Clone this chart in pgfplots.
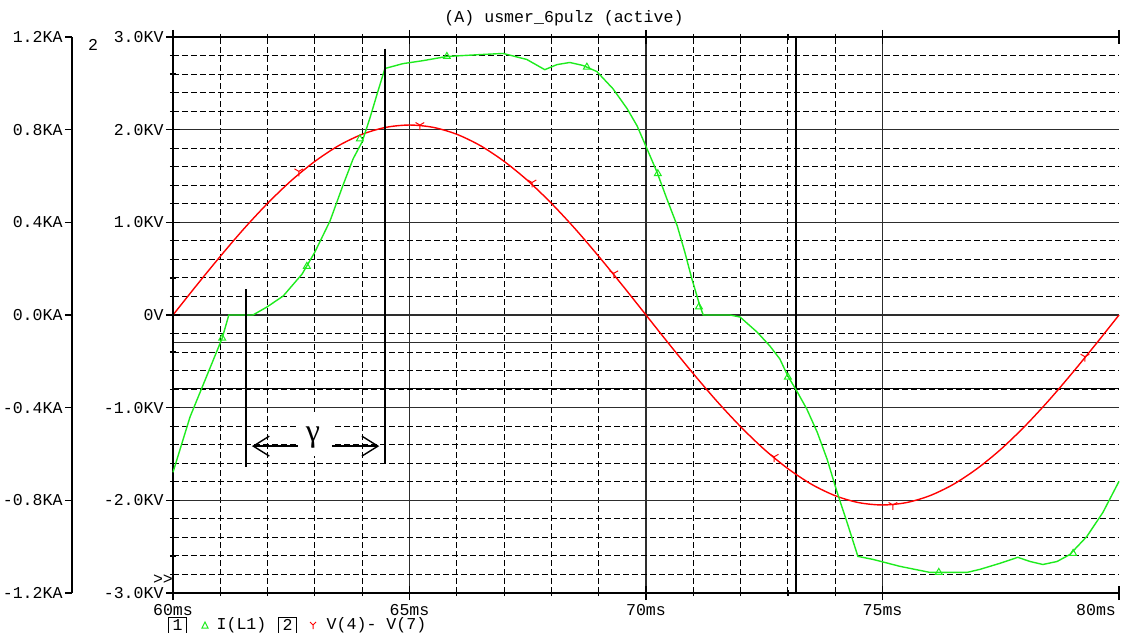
\documentclass[border=0pt]{standalone}
\usepackage{fontspec}
\setmainfont{Liberation Mono}
\newfontfamily\greekfont{Liberation Serif}
\usepackage{pgfplots}
\pgfplotsset{compat=1.18}
\usetikzlibrary{arrows.meta,plotmarks}

\definecolor{trGreen}{RGB}{30,235,30}
\definecolor{trRed}{RGB}{255,0,0}
\definecolor{gridMaj}{RGB}{45,45,45}

% 1 px of the screenshot = 0.5pt here
\pgfplotsset{
  psp/.style={scale only axis, width=473pt, height=278pt,
    at={(0,0)}, anchor=south west, xmin=60, xmax=80},
}

\begin{document}
\begin{tikzpicture}[font=\fontsize{8.3}{10}\selectfont]
\useasboundingbox (-86.5pt,-19.5pt) rectangle (475.5pt,296.5pt);

% current scale (axis 1), only its ruler
\begin{axis}[psp, at={(-50.5pt,0)}, ymin=-1.2, ymax=1.2,
  axis x line=none, axis y line=left,
  axis line style={-, line width=0.6pt},
  xtick=\empty,
  ytick={-1.2,-0.8,-0.4,0,0.4,0.8,1.2},
  yticklabels={-1.2KA,-0.8KA,-0.4KA,0.0KA,0.4KA,0.8KA,1.2KA},
  tick align=outside, major tick length=3.5pt,
  tick style={black, line width=0.6pt},
  yticklabel style={inner sep=1pt},
]
\end{axis}

% voltage axis (axis 2) with the grid
\begin{axis}[psp, ymin=-3, ymax=3, clip=false,
  axis line style={draw=none},
  xtick={60,65,70,75}, xticklabels={60ms,65ms,70ms,75ms},
  extra x ticks={80}, extra x tick labels={80ms},
  extra x tick style={grid=none, xticklabel style={anchor=north east, xshift=2pt}},
  xticklabel style={yshift=1.5pt},
  minor x tick num=4,
  ytick={-3,-2,-1,0,1,2,3},
  yticklabels={-3.0KV,-2.0KV,-1.0KV,0V,1.0KV,2.0KV,3.0KV},
  minor y tick num=4,
  ytick pos=left,
  grid=both,
  major grid style={draw=gridMaj, line width=0.6pt},
  minor grid style={draw=black, line width=0.55pt, dash pattern=on 2.8pt off 1.7pt},
  tick align=center, major tick length=7pt, minor tick length=3pt,
  tick style={black, line width=0.6pt},
  yticklabel style={inner sep=1pt},
]
% cursors
\draw[gridMaj, line width=0.55pt] (axis cs:60,-0.30) -- (axis cs:80,-0.30);
\draw[black, line width=0.7pt] (axis cs:60,-0.79) -- (axis cs:80,-0.79);
\draw[black, line width=0.7pt] (axis cs:73.17,-3) -- (axis cs:73.17,3);

% V(4)-V(7) in kV
\addplot[trRed, line width=0.7pt, smooth] coordinates {
  (60,0) (60.5,0.321) (61,0.633) (61.5,0.931) (62,1.205) (62.5,1.450)
  (63,1.658) (63.5,1.827) (64,1.950) (64.5,2.025) (65,2.050) (65.5,2.025)
  (66,1.950) (66.5,1.827) (67,1.658) (67.5,1.450) (68,1.205) (68.5,0.931)
  (69,0.633) (69.5,0.321) (70,0) (70.5,-0.321) (71,-0.633) (71.5,-0.931)
  (72,-1.205) (72.5,-1.450) (73,-1.658) (73.5,-1.827) (74,-1.950) (74.5,-2.025)
  (75,-2.050) (75.5,-2.025) (76,-1.950) (76.5,-1.827) (77,-1.658) (77.5,-1.450)
  (78,-1.205) (78.5,-0.931) (79,-0.633) (79.5,-0.321) (80,0)
};
\addplot[trRed, only marks, mark=Mercedes star flipped, mark size=2.5pt,
  mark options={line width=0.5pt}] coordinates {
  (62.66,1.55) (65.22,2.05) (67.59,1.43) (69.32,0.45) (72.71,-1.53)
  (75.22,-2.05) (79.28,-0.45)
};

% frame
\draw[black, line width=0.7pt] (rel axis cs:0,0) -- (rel axis cs:0,1);
\draw[black, line width=0.7pt] (rel axis cs:0,0) -- (rel axis cs:1,0);
\draw[black, line width=0.7pt] (rel axis cs:0,1) -- (rel axis cs:1,1);
\end{axis}

% I(L1) in kA, on the scale of axis 1
\begin{axis}[psp, ymin=-1.2, ymax=1.2, hide axis, clip=false]
\addplot[trGreen, line width=0.7pt] coordinates {
  (60.00,-0.679) (60.36,-0.44) (61.04,-0.10) (61.18,0) (61.69,0)
  (61.99,0.035) (62.33,0.082) (62.73,0.177) (63.00,0.272) (63.32,0.406)
  (63.59,0.558) (63.81,0.675) (64.00,0.748) (64.16,0.848) (64.33,0.964)
  (64.48,1.064) (64.86,1.085) (65.29,1.098) (65.79,1.116) (66.49,1.124)
  (66.98,1.129) (67.48,1.103) (67.86,1.059) (68.12,1.081) (68.39,1.090)
  (68.67,1.077) (68.96,1.051) (69.30,0.977) (69.60,0.891) (69.81,0.817)
  (70.02,0.718) (70.23,0.618) (70.44,0.502) (70.66,0.385) (70.82,0.272)
  (70.97,0.156) (71.14,0.039) (71.21,0) (71.78,0) (71.99,-0.009)
  (72.35,-0.074) (72.62,-0.134) (72.83,-0.190) (73.00,-0.264) (73.19,-0.329)
  (73.40,-0.406) (73.62,-0.506) (73.83,-0.623) (74.04,-0.765) (74.25,-0.895)
  (74.48,-1.042) (74.80,-1.055) (75.37,-1.085) (76.00,-1.111) (76.79,-1.111)
  (77.06,-1.098) (77.48,-1.072) (77.86,-1.046) (78.12,-1.064) (78.39,-1.077)
  (78.69,-1.064) (78.96,-1.034) (79.32,-0.956) (79.66,-0.852) (80.00,-0.718)
};
\addplot[trGreen, only marks, mark=triangle, mark size=2pt,
  mark options={line width=0.5pt}] coordinates {
  (61.04,-0.10) (62.83,0.21) (63.95,0.76) (65.79,1.116) (68.75,1.07)
  (70.25,0.61) (71.12,0.035) (73.00,-0.268) (76.19,-1.111) (79.03,-1.029)
};

% commutation angle
\draw[black, line width=0.8pt] (axis cs:61.54,0.112) -- (axis cs:61.54,-0.657);
\draw[black, line width=0.8pt] (axis cs:64.48,1.150) -- (axis cs:64.48,-0.644);
\node[fill=white, minimum width=17pt, minimum height=22pt, inner sep=0pt]
  at (axis cs:63.0,-0.515) {};
\draw[black, line width=0.7pt, -{Straight Barb[length=8pt,width=10pt]}]
  (axis cs:62.64,-0.566) -- (axis cs:61.67,-0.566);
\draw[black, line width=0.7pt, -{Straight Barb[length=8pt,width=10pt]}]
  (axis cs:63.36,-0.566) -- (axis cs:64.36,-0.566);
\node[font=\greekfont\fontsize{16}{16}\selectfont, inner sep=0pt]
  at (axis cs:62.96,-0.53) {γ};
\end{axis}

% texts round the plot
\node at (195.5pt,287.5pt) {(A) usmer\_6pulz (active)};
\node at (-40pt,274pt) {2};
\node at (-5pt,6.5pt) {{>}{>}};
\node[draw, line width=0.5pt, inner sep=0pt, minimum width=9pt, minimum height=8pt]
  at (2.25pt,-16pt) {1};
\draw[trGreen, line width=0.5pt] (14.5pt,-17.5pt) -- (17.5pt,-17.5pt) -- (16pt,-14.5pt) -- cycle;
\node at (34.25pt,-16pt) {I(L1)};
\node[draw, line width=0.5pt, inner sep=0pt, minimum width=9pt, minimum height=8pt]
  at (57.25pt,-16pt) {2};
\draw[trRed, line width=0.5pt] (70pt,-16pt) -- (70pt,-18pt)
  (70pt,-16pt) -- (68.5pt,-14.5pt) (70pt,-16pt) -- (71.5pt,-14.5pt);
\node at (101.75pt,-16pt) {V(4)- V(7)};
\end{tikzpicture}
\end{document}
